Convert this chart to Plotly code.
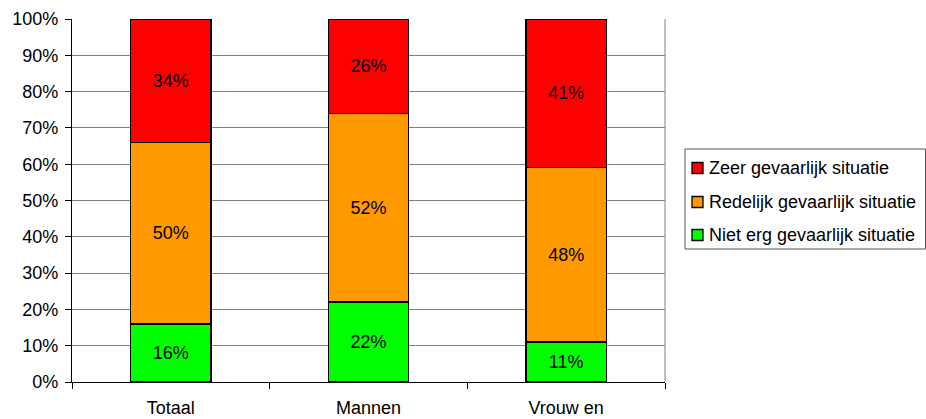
import plotly.graph_objects as go

categories = ["Totaal", "Mannen", "Vrouw en"]
niet_erg = [16, 22, 11]
redelijk = [50, 52, 48]
zeer = [34, 26, 41]
y_ticks = [0, 10, 20, 30, 40, 50, 60, 70, 80, 90, 100]

series = [
    ("Niet erg gevaarlijk situatie", niet_erg, "#00FF00"),
    ("Redelijk gevaarlijk situatie", redelijk, "#FF9900"),
    ("Zeer gevaarlijk situatie", zeer, "#FF0000"),
]

FONT = "Liberation Sans, Arial, sans-serif"
W, H = 926, 419
L, R, T, B = 72, 261, 19, 37
PW, PH = W - L - R, H - T - B


def px_x(px):
    return (px - L) / PW


def px_y(py):
    return (H - B - py) / PH


xpos = list(range(len(categories)))

fig = go.Figure()
for name, vals, color in series:
    fig.add_trace(go.Bar(
        x=xpos, y=vals, name=name, showlegend=False,
        marker=dict(color=color, line=dict(color="black", width=1.3)),
        text=[f"{v}%" for v in vals], textposition="inside",
        insidetextanchor="middle", textangle=0,
        textfont=dict(family=FONT, size=18, color="black"),
        width=0.405, hoverinfo="skip",
    ))

fig.update_layout(
    barmode="stack",
    width=W, height=H,
    margin=dict(l=L, r=R, t=T, b=B),
    paper_bgcolor="white", plot_bgcolor="white",
    font=dict(family=FONT, size=18, color="black"),
    uniformtext=dict(minsize=18, mode="show"),
    xaxis=dict(
        range=[-0.5, 2.5], tickvals=xpos, ticktext=categories,
        ticks="", showgrid=False, zeroline=False, automargin=False,
        showline=True, linecolor="black", linewidth=1.3,
        ticklabelstandoff=9,
        minor=dict(tickvals=[-0.5, 0.5, 1.5, 2.5], ticks="outside",
                   ticklen=6, tickcolor="black", tickwidth=1, showgrid=False),
    ),
    yaxis=dict(
        range=[0, 100], tickvals=y_ticks,
        ticktext=[f"{v}%" for v in y_ticks],
        ticks="outside", ticklen=6, tickcolor="black", automargin=False,
        ticklabelstandoff=3,
        showgrid=True, gridcolor="#808080", gridwidth=1,
        zeroline=False, showline=True, linecolor="black", linewidth=1.3,
    ),
)

# right edge of the plotting area
fig.add_shape(type="line", xref="paper", yref="paper", x0=1, x1=1, y0=0, y1=1,
              line=dict(color="#808080", width=1))

# legend: framed box with a swatch and label per series, top entry = top segment
box_l, box_r, box_t, box_b = 685, 925.5, 149, 249
fig.add_shape(type="rect", xref="paper", yref="paper",
              x0=px_x(box_l), x1=px_x(box_r), y0=px_y(box_b), y1=px_y(box_t),
              line=dict(color="#555555", width=1), fillcolor="white", layer="below")
row_y = [168, 202, 235]
for (name, _vals, color), cy in zip(reversed(series), row_y):
    fig.add_shape(type="rect", xref="paper", yref="paper",
                  x0=px_x(692), x1=px_x(703), y0=px_y(cy + 5.5), y1=px_y(cy - 5.5),
                  line=dict(color="black", width=1.3), fillcolor=color)
    fig.add_annotation(xref="paper", yref="paper", x=px_x(707), y=px_y(cy),
                       xanchor="left", yanchor="middle", text=name, showarrow=False,
                       font=dict(family=FONT, size=18, color="black"))

fig.write_html("out.html")
